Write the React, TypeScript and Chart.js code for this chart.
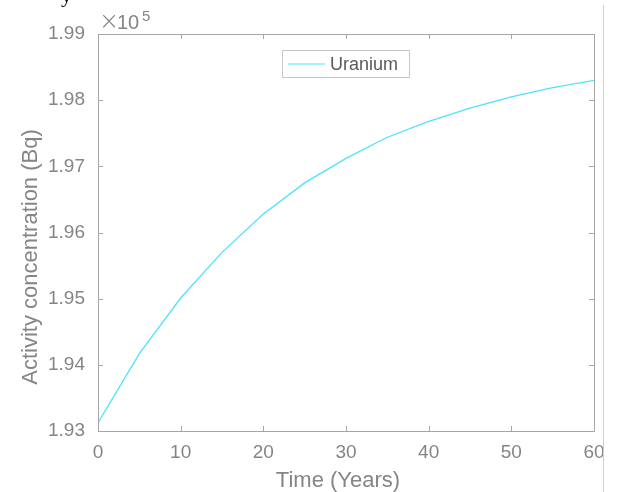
import React, { useEffect, useRef } from "react";
import { Chart, registerables } from "chart.js";

Chart.register(...registerables);

const years = [0, 5, 10, 15, 20, 25, 30, 35, 40, 45, 50, 55, 60];
const uranium = [
  193125, 194170, 195010, 195700, 196280, 196750, 197120, 197440, 197680,
  197880, 198050, 198190, 198300,
];
const xTicks = [0, 10, 20, 30, 40, 50, 60];
const yTicks = [193000, 194000, 195000, 196000, 197000, 198000, 199000];
const seriesLabel = "Uranium";
const xTitle = "Time (Years)";
const yTitle = "Activity concentration (Bq)";

const AXIS = "#a6a6a6";
const TEXT = "#858585";
const LINE = "#4de3ff";
const FONT = "'Liberation Sans', Arial, Helvetica, sans-serif";

const decor = {
  id: "decor",
  afterDraw(chart: any) {
    const ctx = chart.ctx as CanvasRenderingContext2D;
    const { left, right, top, bottom } = chart.chartArea;
    const xs = chart.scales.x;
    const ys = chart.scales.y;
    ctx.save();
    // box
    ctx.strokeStyle = AXIS;
    ctx.lineWidth = 1;
    ctx.beginPath();
    ctx.rect(Math.round(left) + 0.5, Math.round(top) + 0.5, Math.round(right - left), Math.round(bottom - top));
    ctx.stroke();
    // inward ticks
    const tl = 5;
    ctx.beginPath();
    xTicks.forEach((v) => {
      const px = Math.round(xs.getPixelForValue(v)) + 0.5;
      ctx.moveTo(px, bottom);
      ctx.lineTo(px, bottom - tl);
      ctx.moveTo(px, top);
      ctx.lineTo(px, top + tl);
    });
    yTicks.forEach((v) => {
      const py = Math.round(ys.getPixelForValue(v)) + 0.5;
      ctx.moveTo(left, py);
      ctx.lineTo(left + tl, py);
      ctx.moveTo(right, py);
      ctx.lineTo(right - tl, py);
    });
    ctx.stroke();

    // exponent label
    ctx.fillStyle = TEXT;
    ctx.textBaseline = "alphabetic";
    ctx.textAlign = "left";
    ctx.font = `300 24px 'DejaVu Sans', ${FONT}`;
    ctx.fillText("\u00d7", left + 1, top - 5);
    ctx.font = `20px ${FONT}`;
    ctx.fillText("10", left + 19, top - 5);
    ctx.font = `15px ${FONT}`;
    ctx.fillText("5", left + 44, top - 13);

    // axis titles
    ctx.font = `22px ${FONT}`;
    ctx.textAlign = "center";
    ctx.fillText(xTitle, 338, 487);
    ctx.save();
    ctx.translate(37, 257);
    ctx.rotate(-Math.PI / 2);
    ctx.fillText(yTitle, 0, 0);
    ctx.restore();

    // legend
    const lx = 282, ly = 50, lw = 127, lh = 27;
    ctx.fillStyle = "#ffffff";
    ctx.fillRect(lx, ly, lw, lh);
    ctx.strokeStyle = "#c8c8c8";
    ctx.strokeRect(lx + 0.5, ly + 0.5, lw, lh);
    ctx.strokeStyle = LINE;
    ctx.lineWidth = 1.2;
    ctx.beginPath();
    ctx.moveTo(288, 64);
    ctx.lineTo(325, 64);
    ctx.stroke();
    ctx.fillStyle = "#5a5a5a";
    ctx.textAlign = "left";
    ctx.textBaseline = "alphabetic";
    ctx.font = `18px ${FONT}`;
    ctx.fillText(seriesLabel, 330, 70);

    // page artefacts: cut-off letter and right border line
    ctx.fillStyle = "#000000";
    ctx.font = `22px 'Liberation Serif', 'Times New Roman', serif`;
    ctx.fillText("y", 61, 2);
    ctx.strokeStyle = "#d0d0d0";
    ctx.lineWidth = 1;
    ctx.beginPath();
    ctx.moveTo(603.5, 5);
    ctx.lineTo(603.5, 492);
    ctx.stroke();
    ctx.restore();
  },
};

export default function App() {
  const ref = useRef<HTMLCanvasElement | null>(null);
  useEffect(() => {
    if (!ref.current) return;
    const chart = new Chart(ref.current, {
      type: "line",
      data: {
        datasets: [
          {
            label: seriesLabel,
            data: years.map((x, i) => ({ x, y: uranium[i] })),
            borderColor: LINE,
            borderWidth: 1.3,
            pointRadius: 0,
            tension: 0,
            fill: false,
          },
        ],
      },
      options: {
        responsive: false,
        animation: false,
        layout: { padding: { top: 34, right: 23, left: 0, bottom: 0 } },
        plugins: { legend: { display: false }, tooltip: { enabled: false } },
        scales: {
          x: {
            type: "linear",
            min: 0,
            max: 60,
            afterBuildTicks: (s: any) => {
              s.ticks = xTicks.map((v) => ({ value: v }));
            },
            afterFit: (s: any) => {
              s.height = 61;
            },
            grid: { display: false, drawTicks: false },
            border: { display: false },
            ticks: {
              color: TEXT,
              font: { size: 19, family: FONT },
              padding: 10,
              maxRotation: 0,
              autoSkip: false,
            },
          },
          y: {
            type: "linear",
            min: 193000,
            max: 199000,
            afterBuildTicks: (s: any) => {
              s.ticks = yTicks.map((v) => ({ value: v }));
            },
            afterFit: (s: any) => {
              s.width = 98;
            },
            grid: { display: false, drawTicks: false },
            border: { display: false },
            ticks: {
              color: TEXT,
              font: { size: 19, family: FONT },
              padding: 13,
              autoSkip: false,
              callback: (v: any) => (Number(v) / 1e5).toFixed(2),
            },
          },
        },
      },
      plugins: [decor],
    });
    return () => chart.destroy();
  }, []);
  return (
    <div style={{ position: "fixed", left: 0, top: 0, width: 617, height: 492, background: "#fff" }}>
      <canvas ref={ref} width={617} height={492} style={{ display: "block" }} />
    </div>
  );
}
